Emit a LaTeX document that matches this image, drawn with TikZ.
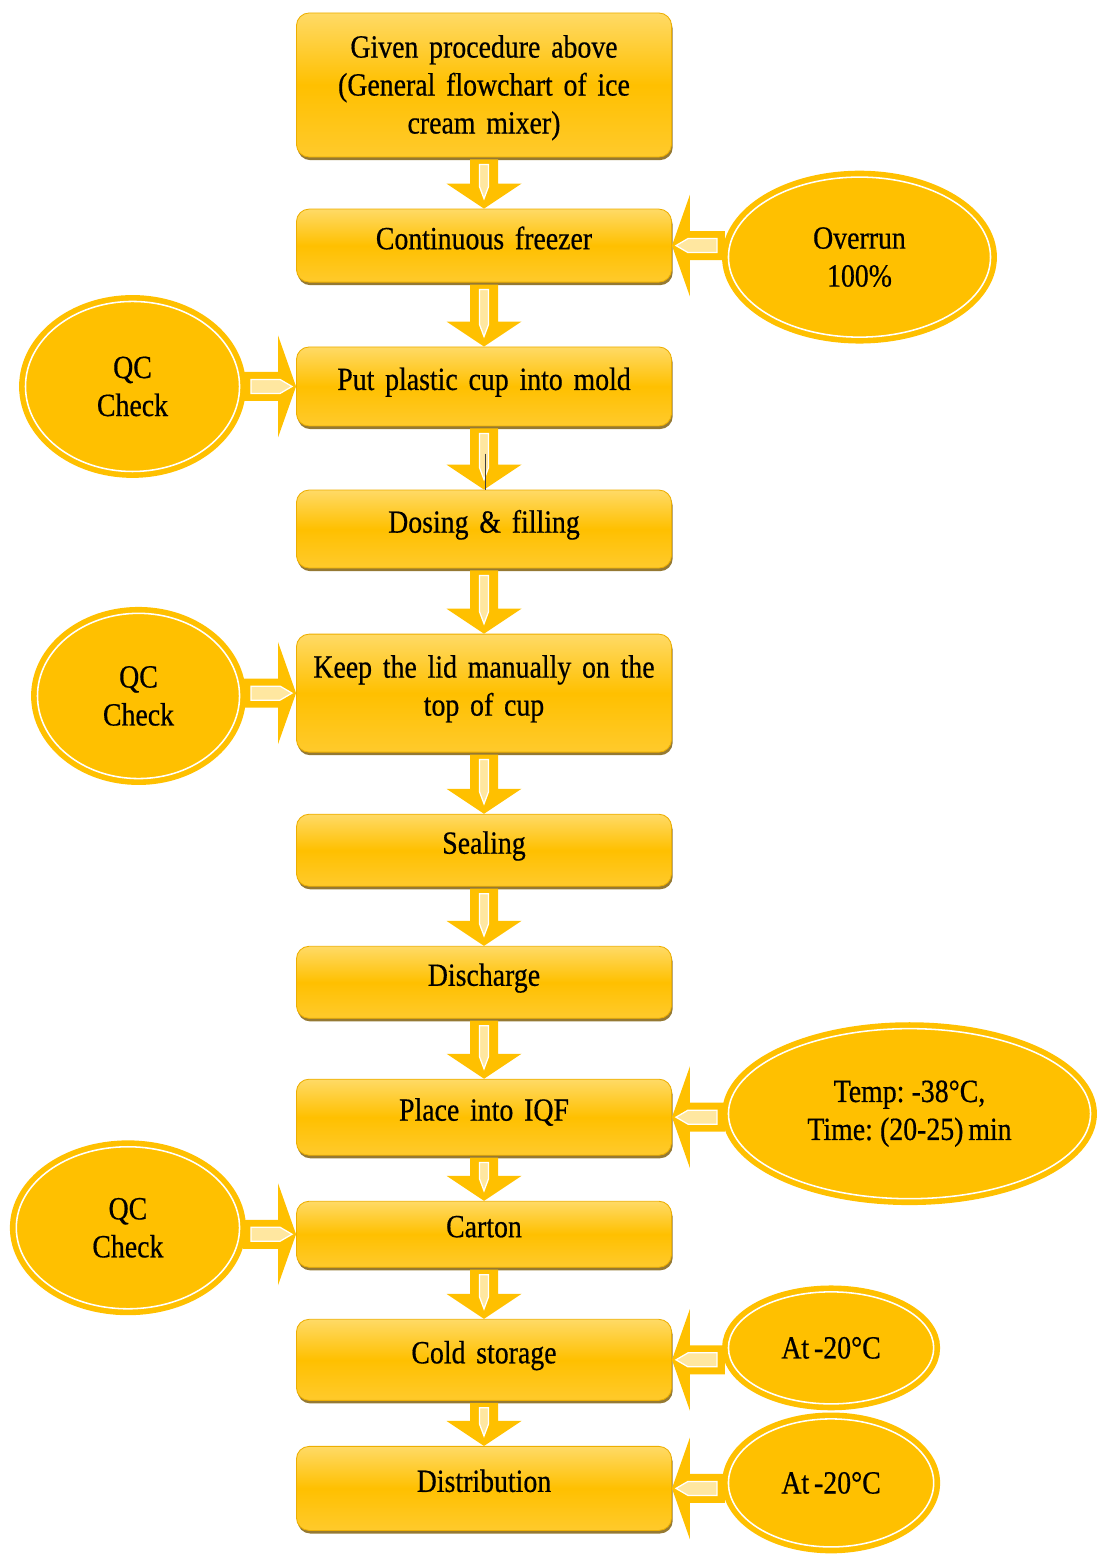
\documentclass[tikz,border=0pt]{standalone}
\usepackage{fontspec}
\setmainfont[FakeStretch=0.86, WordSpace=0.7, FakeBold=0.5]{Liberation Serif}
\usetikzlibrary{positioning, calc, shapes.geometric, shadows}

\definecolor{flowgold}{HTML}{FFC000}
\definecolor{boxtop}{HTML}{FFDA66}
\definecolor{boxbottom}{HTML}{FFCA2C}
\definecolor{boxline}{HTML}{EDAE00}
\definecolor{boxshadow}{HTML}{7A5800}
\definecolor{flowcream}{HTML}{FFE7A0}

\tikzset{
  lift/.style={execute at end node={\rule[-#1]{0pt}{0pt}}},
  sink/.style={execute at begin node={\rule{0pt}{#1}}},
  stepbox/.style={rectangle, rounded corners=9pt, draw=boxline, line width=0.6pt,
    top color=boxtop, bottom color=boxbottom, middle color=flowgold,
    minimum width=9.375cm, text width=8.8cm, align=center,
    font=\fontsize{23}{27}\selectfont, lift=11pt,
    drop shadow={shadow xshift=0.8pt, shadow yshift=-2.2pt, fill=boxshadow, opacity=0.8}},
  inbubble/.style={ellipse, fill=flowgold, draw=flowgold, line width=4pt,
    double=white, double distance=1.1pt, outer sep=4.6pt, align=center,
    font=\fontsize{23}{27}\selectfont}
}

% block arrow from box #1 down to box #2
\newcommand{\flowdown}[2]{%
  \fill[flowgold] ($(#1.south)+(-14,2)$) -- ($(#2.north)+(-14,-25)$) -- ($(#2.north)+(-37.5,-25)$)
    -- (#2.north) -- ($(#2.north)+(37.5,-25)$) -- ($(#2.north)+(14,-25)$) -- ($(#1.south)+(14,2)$) -- cycle;
  \filldraw[draw=white, fill=flowcream, line width=0.9pt] ($(#1.south)+(-4.5,7)$) -- ($(#2.north)+(-4.5,-22)$)
    -- ($(#2.north)+(0,-10)$) -- ($(#2.north)+(4.5,-22)$) -- ($(#1.south)+(4.5,7)$) -- cycle;
}
% block arrow from bubble #1 (right side) into box #2
\newcommand{\flowleft}[2]{%
  \fill[flowgold] (#2.east) -- ($(#2.east)+(18,-51)$) -- ($(#2.east)+(18,-14.5)$)
    -- ($(#1.west |- #2.east)+(3,-14.5)$) -- ($(#1.west |- #2.east)+(3,14.5)$)
    -- ($(#2.east)+(18,14.5)$) -- ($(#2.east)+(18,51)$) -- cycle;
  \filldraw[draw=white, fill=flowcream, line width=0.9pt] ($(#2.east)+(4,0)$) -- ($(#2.east)+(16,-7)$)
    -- ($(#1.west |- #2.east)+(-5,-7)$) -- ($(#1.west |- #2.east)+(-5,7)$) -- ($(#2.east)+(16,7)$) -- cycle;
}
% block arrow from bubble #1 (left side) into box #2
\newcommand{\flowright}[2]{%
  \fill[flowgold] (#2.west) -- ($(#2.west)+(-18,-51)$) -- ($(#2.west)+(-18,-14.5)$)
    -- ($(#1.east |- #2.west)+(-3,-14.5)$) -- ($(#1.east |- #2.west)+(-3,14.5)$)
    -- ($(#2.west)+(-18,14.5)$) -- ($(#2.west)+(-18,51)$) -- cycle;
  \filldraw[draw=white, fill=flowcream, line width=0.9pt] ($(#2.west)+(-4,0)$) -- ($(#2.west)+(-16,-7)$)
    -- ($(#1.east |- #2.west)+(5,-7)$) -- ($(#1.east |- #2.west)+(5,7)$) -- ($(#2.west)+(-16,7)$) -- cycle;
}

\begin{document}
\begin{tikzpicture}[x=0.025cm, y=-0.025cm]
  \useasboundingbox (0,0) rectangle (1097,1556);

  % main column
  \node[stepbox, lift=0pt, sink=26pt, minimum height=3.6cm] (given) at (484,85) {Given procedure above\\(General flowchart of ice\\cream mixer)};
  \node[stepbox, minimum height=1.825cm, below=1.28cm of given] (freezer) {Continuous freezer};
  \node[stepbox, minimum height=1.975cm, below=1.6cm of freezer] (cup) {Put plastic cup into mold};
  \node[stepbox, minimum height=1.95cm, below=1.58cm of cup] (dosing) {Dosing \& filling};
  \node[stepbox, minimum height=2.95cm, below=1.63cm of dosing] (lid) {Keep the lid manually on the\\top of cup};
  \node[stepbox, minimum height=1.8cm, below=1.53cm of lid] (sealing) {Sealing};
  \node[stepbox, minimum height=1.8cm, below=1.48cm of sealing] (discharge) {Discharge};
  \node[stepbox, minimum height=1.9cm, below=1.5cm of discharge] (iqf) {Place into IQF};
  \node[stepbox, minimum height=1.65cm, below=1.13cm of iqf] (carton) {Carton};
  \node[stepbox, minimum height=2.025cm, below=1.28cm of carton] (storage) {Cold storage};
  \node[stepbox, minimum height=2.1cm, below=1.13cm of storage] (distrib) {Distribution};

  % side inputs
  \node[inbubble, minimum width=6.55cm, minimum height=4cm, right=1.25cm of freezer, yshift=-8.2pt] (overrun) {Overrun\\100\%};
  \node[inbubble, minimum width=5.35cm, minimum height=4.25cm, left=1.25cm of cup] (qc1) {QC\\Check};
  \node[inbubble, minimum width=5.05cm, minimum height=4.13cm, left=1.25cm of lid, yshift=-2pt] (qc2) {QC\\Check};
  \node[inbubble, minimum width=9.05cm, minimum height=4.25cm, right=1.25cm of iqf, yshift=2.5pt] (freeze) {Temp: -38°C,\\Time: (20-25) min};
  \node[inbubble, minimum width=5.58cm, minimum height=4.05cm, left=1.25cm of carton, yshift=4.6pt] (qc3) {QC\\Check};
  \node[inbubble, minimum width=5.13cm, minimum height=2.8cm, right=1.25cm of storage, yshift=8.5pt] (temp1) {At -20°C};
  \node[inbubble, minimum width=5.13cm, minimum height=3.2cm, right=1.25cm of distrib, yshift=3.9pt] (temp2) {At -20°C};

  % arrows
  \flowdown{given}{freezer}
  \flowdown{freezer}{cup}
  \flowdown{cup}{dosing}
  \flowdown{dosing}{lid}
  \flowdown{lid}{sealing}
  \flowdown{sealing}{discharge}
  \flowdown{discharge}{iqf}
  \flowdown{iqf}{carton}
  \flowdown{carton}{storage}
  \flowdown{storage}{distrib}
  \flowleft{overrun}{freezer}
  \flowleft{freeze}{iqf}
  \flowleft{temp1}{storage}
  \flowleft{temp2}{distrib}
  \flowright{qc1}{cup}
  \flowright{qc2}{lid}
  \flowright{qc3}{carton}

  \draw[black!75, line width=0.6pt] ($(dosing.north)+(1,-36)$) -- ($(dosing.north)+(1,0)$);
\end{tikzpicture}
\end{document}
